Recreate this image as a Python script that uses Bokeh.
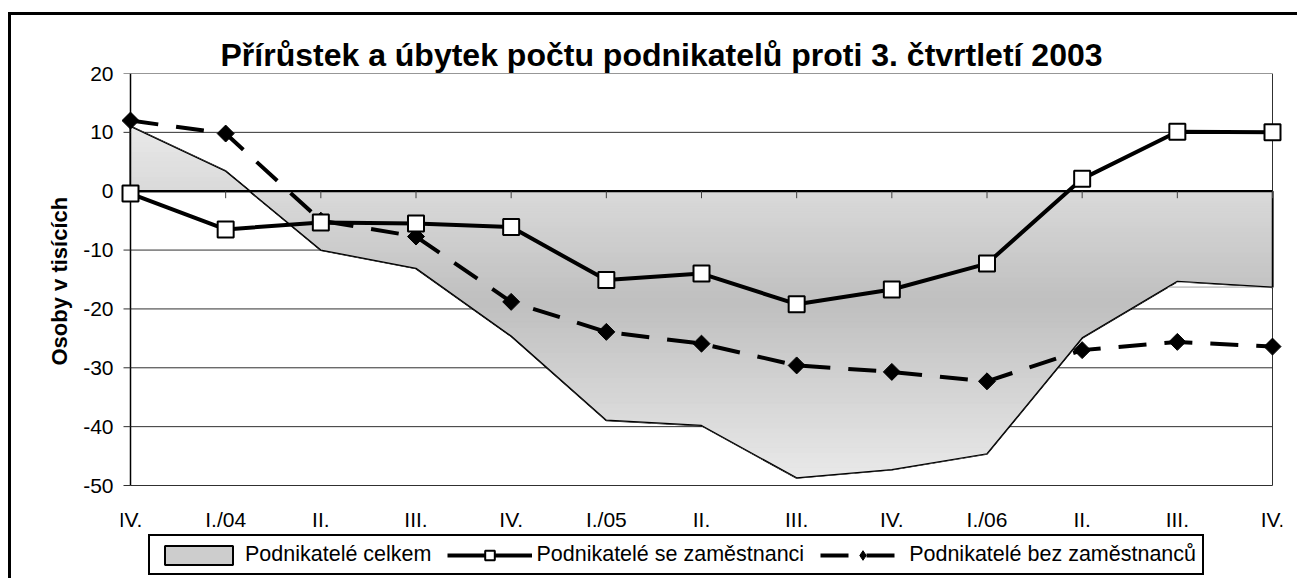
import math
from bokeh.plotting import figure
from bokeh.models import Range1d, FixedTicker, Legend, LegendItem, Title
from bokeh.core.properties import value
from bokeh.embed import file_html
from bokeh.resources import INLINE

# ---- data -------------------------------------------------------------
categories = ["IV.", "I./04", "II.", "III.", "IV.", "I./05", "II.", "III.",
              "IV.", "I./06", "II.", "III.", "IV."]
celkem = [11.0, 3.4, -10.0, -13.1, -24.6, -38.9, -39.8, -48.7, -47.3, -44.6, -24.9, -15.3, -16.3]
se_zam = [-0.4, -6.5, -5.3, -5.5, -6.1, -15.1, -14.0, -19.2, -16.7, -12.3, 2.1, 10.1, 10.0]
bez_zam = [12.0, 9.8, -5.0, -7.7, -18.8, -23.9, -25.9, -29.6, -30.7, -32.3, -27.0, -25.6, -26.4]
y_ticks = [-50, -40, -30, -20, -10, 0, 10, 20]

title_text = "Přírůstek a úbytek počtu podnikatelů proti 3. čtvrtletí 2003"
y_label = "Osoby v tisících"
legend_labels = ["Podnikatelé celkem", "Podnikatelé se zaměstnanci", "Podnikatelé bez zaměstnanců"]

x = list(range(len(categories)))

# ---- layout constants (pixels) ----------------------------------------
FONT = "Liberation Sans"
INNER_W = 1142          # width of the plotting area between first and last category
PAD_PX = 10             # room for markers at both ends
PLOT_H = 412            # height of the value axis (-50 .. 20)
FRAME_H = 506           # frame also holds the category labels and the legend
W, H = 1289, 566
TOP = 58
LEFT = 109

pad = PAD_PX * (x[-1] - x[0]) / INNER_W
px_per_unit = PLOT_H / (y_ticks[-1] - y_ticks[0])
y_lo = y_ticks[-1] - FRAME_H / px_per_unit

p = figure(width=W, height=H, output_backend="svg", toolbar_location=None,
           x_range=Range1d(x[0] - pad, x[-1] + pad), y_range=Range1d(y_lo, y_ticks[-1]),
           min_border_left=LEFT, min_border_right=W - LEFT - INNER_W - 2 * PAD_PX,
           min_border_top=TOP, min_border_bottom=H - TOP - FRAME_H)
p.styles = {"border-top": "3px solid black", "border-left": "3px solid black",
            "margin-top": "12px", "margin-left": "8px"}
p.outline_line_color = None
p.xgrid.visible = False
p.ygrid.visible = False
p.xaxis.visible = False
p.background_fill_color = "white"
p.border_fill_color = "white"

# title
p.title.text = title_text
p.title.text_font = FONT
p.title.text_font_size = "32px"
p.title.text_font_style = "bold"
p.title.text_color = "black"
p.title.align = "left"
p.title.offset = 100
p.title.standoff = 2

# y axis (labels only, line/ticks drawn at x[0])
ya = p.yaxis[0]
ya.ticker = FixedTicker(ticks=y_ticks)
ya.major_label_overrides = {v: str(v) for v in y_ticks}
ya.axis_line_color = None
ya.major_tick_line_color = None
ya.minor_tick_line_color = None
ya.major_tick_out = 0
ya.major_tick_in = 0
ya.major_label_standoff = 7
ya.major_label_text_font = FONT
ya.major_label_text_font_size = "21px"
ya.major_label_text_color = "black"

# y axis title (aligned to the value-axis span, not to the whole frame)
p.add_layout(Title(text=y_label, align="left", offset=FRAME_H - PLOT_H + 120,
                   text_font=FONT, text_font_size="22px", text_font_style="bold",
                   text_color="black", standoff=18), "left")

# gridlines (behind the area)
grid_vals = [v for v in y_ticks if v != 0]
p.segment(x0=[x[0]] * len(grid_vals), y0=grid_vals, x1=[x[-1]] * len(grid_vals), y1=grid_vals,
          line_color="#303030", line_width=1)
p.segment(x0=[x[-1]], y0=[y_ticks[0]], x1=[x[-1]], y1=[y_ticks[-1]], line_color="#303030", line_width=1)

# ---- area "Podnikatelé celkem" -----------------------------------------
poly = [(x[0], 0.0)] + list(zip(x, celkem)) + [(x[-1], 0.0)]
area = p.patch(x=[pt[0] for pt in poly], y=[pt[1] for pt in poly],
               fill_color="#cdcdcd", line_color="black", line_width=2)


def clip(pts, inside, inter):
    out = []
    n = len(pts)
    for i in range(n):
        cur, prev = pts[i], pts[i - 1]
        if inside(cur):
            if not inside(prev):
                out.append(inter(prev, cur))
            out.append(cur)
        elif inside(prev):
            out.append(inter(prev, cur))
    return out


def y_inter(level):
    def f(a, b):
        t = (level - a[1]) / (b[1] - a[1])
        return (a[0] + t * (b[0] - a[0]), level)
    return f


# vertical gradient fill: the area polygon clipped into horizontal bands
top, bot = max(celkem + [0]), min(celkem + [0])
mid, half = (top + bot) / 2, (top - bot) / 2
N = 70
bxs, bys, bcol = [], [], []
for k in range(N):
    lo = bot + (top - bot) * k / N
    hi = bot + (top - bot) * (k + 1) / N
    q = clip(poly, lambda pt: pt[1] >= lo, y_inter(lo))
    if q:
        q = clip(q, lambda pt: pt[1] <= hi, y_inter(hi))
    if len(q) >= 3:
        s = abs((lo + hi) / 2 - mid) / half
        g = int(round(191 + s * 42))
        c = "#%02x%02x%02x" % (g, g, g)
        bxs.append([pt[0] for pt in q])
        bys.append([pt[1] for pt in q])
        bcol.append(c)
p.patches(xs=bxs, ys=bys, fill_color=bcol, line_color=bcol, line_width=1)

# area outline
p.line(x, celkem, line_color="black", line_width=1.2)
p.segment(x0=[x[-1]], y0=[0], x1=[x[-1]], y1=[celkem[-1]], line_color="black", line_width=1.5)

# left value axis line + ticks
p.segment(x0=[x[0]], y0=[y_ticks[0]], x1=[x[0]], y1=[y_ticks[-1]], line_color="black", line_width=1.5)
p.ray(x=[x[0]] * len(y_ticks), y=y_ticks, length=7, length_units="screen", angle=math.pi,
      line_color="#303030", line_width=1)

# zero (category) axis line + ticks
p.segment(x0=[x[0]], y0=[0], x1=[x[-1]], y1=[0], line_color="black", line_width=2.2)
p.ray(x=x, y=[0] * len(x), length=7, length_units="screen", angle=-math.pi / 2,
      line_color="#404040", line_width=1)

# category labels under the value axis
p.text(x=x, y=[y_ticks[0] - 33.5 / px_per_unit] * len(x), text=categories,
       text_align="center", text_baseline="middle", text_font=value(FONT),
       text_font_size="21px", text_color="black")

# series
bez_line = p.line(x, bez_zam, line_color="black", line_width=4, line_dash="28 18")
bez_pts = p.scatter(x, bez_zam, marker="square", angle=math.pi / 4, size=12,
                    fill_color="black", line_color="black", line_width=1)
bez_key = p.scatter(x, bez_zam, marker="diamond", size=14, fill_color="black",
                    line_color="black", visible=False)
se_line = p.line(x, se_zam, line_color="black", line_width=4)
se_pts = p.scatter(x, se_zam, marker="square", size=16, fill_color="white",
                   line_color="black", line_width=2)

legend = Legend(items=[
    LegendItem(label=legend_labels[0], renderers=[area]),
    LegendItem(label=legend_labels[1], renderers=[se_line, se_pts]),
    LegendItem(label=legend_labels[2], renderers=[bez_line, bez_key]),
], orientation="horizontal", location=(28, 4))
legend.border_line_color = "black"
legend.border_line_width = 2
legend.border_line_alpha = 1
legend.background_fill_color = "white"
legend.background_fill_alpha = 1
legend.label_text_font = FONT
legend.label_text_font_size = "21.5px"
legend.label_text_color = "black"
legend.glyph_width = 85
legend.glyph_height = 24
legend.label_standoff = 4
legend.spacing = 16
legend.padding = 6
legend.margin = 0
p.add_layout(legend, "center")

open("out.html", "w").write(file_html(p, INLINE))
